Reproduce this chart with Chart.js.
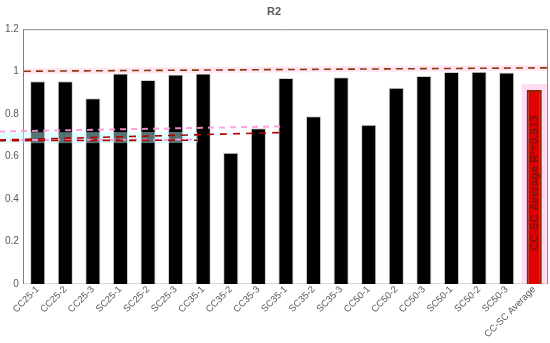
<!DOCTYPE html>
<html>
<head>
<meta charset="utf-8">
<script src="https://cdn.jsdelivr.net/npm/chart.js@4"></script>
<style>
  html, body { margin: 0; padding: 0; background: #fff; }
  #wrap { width: 550px; height: 343px; position: relative; }
</style>
</head>
<body>
<div id="wrap"><canvas id="r2Chart"></canvas></div>
<script>
// ---- data ----
const categories = ['CC25-1', 'CC25-2', 'CC25-3', 'SC25-1', 'SC25-2', 'SC25-3',
    'CC35-1', 'CC35-2', 'CC35-3', 'SC35-1', 'SC35-2', 'SC35-3',
    'CC50-1', 'CC50-2', 'CC50-3', 'SC50-1', 'SC50-2', 'SC50-3', 'CC-SC Average'];
const r2Values = [0.955, 0.955, 0.875, 0.991, 0.961, 0.987,
    0.991, 0.618, 0.733, 0.970, 0.790, 0.974,
    0.750, 0.924, 0.980, 0.998, 0.999, 0.996, 0.913];
const yTicks = [0, 0.2, 0.4, 0.6, 0.8, 1.0, 1.2];
const averageLabel = 'CC-SC Average R\u00b2=0.913';

// dashed reference lines (x in category index units)
const topLineX = [-0.5, 18.5];
const topLineY = [1.002, 1.018];
const midLineAX = [-1.4, 8.8];
const midLineAY = [0.678, 0.713];
const midLineBX = [-1.4, 5.8];
const midLineBY = [0.678, 0.680];
const pinkLineX = [-1.4, 8.8];
const pinkLineY = [0.718, 0.742];

const toPts = (xs, ys) => xs.map((x, i) => ({ x, y: ys[i] }));
const lastIdx = categories.length - 1;

// ---- plugins ----
const frameAndLabel = {
    id: 'frameAndLabel',
    beforeDatasetsDraw(chart) {
        const { ctx } = chart;
        const bar = chart.getDatasetMeta(0).data[lastIdx];
        if (!bar) return;
        // pink glow behind average bar
        ctx.save();
        ctx.fillStyle = 'rgba(255, 190, 235, 0.55)';
        ctx.fillRect(bar.x - bar.width / 2 - 5, bar.y - 6, bar.width + 10, bar.base - bar.y + 6);
        ctx.restore();
    },
    afterDatasetsDraw(chart) {
        const { ctx, chartArea: a } = chart;
        ctx.save();
        ctx.strokeStyle = '#8c8c8c';
        ctx.lineWidth = 1;
        ctx.beginPath();
        ctx.moveTo(a.left, a.top + 0.5);
        ctx.lineTo(a.right - 0.5, a.top + 0.5);
        ctx.lineTo(a.right - 0.5, a.bottom);
        ctx.stroke();

        const bar = chart.getDatasetMeta(0).data[lastIdx];
        if (bar) {
            ctx.translate(bar.x + 0.5, (bar.y + bar.base) / 2 - 4);
            ctx.rotate(-Math.PI / 2);
            ctx.fillStyle = '#7d1200';
            ctx.font = "bold 11.5px 'Liberation Sans', Arial, sans-serif";
            ctx.textAlign = 'center';
            ctx.textBaseline = 'middle';
            ctx.fillText(averageLabel, 0, 0);
        }
        ctx.restore();
    }
};

// ---- chart ----
const lineDs = (label, xs, ys, color, width, dash, order) => ({
    type: 'line',
    label,
    data: toPts(xs, ys),
    xAxisID: 'xl',
    borderColor: color,
    borderWidth: width,
    borderDash: dash,
    pointRadius: 0,
    fill: false,
    clip: false,
    order,
});

new Chart(document.getElementById('r2Chart'), {
    type: 'bar',
    data: {
        labels: categories,
        datasets: [
            {
                label: 'R2',
                data: r2Values,
                backgroundColor: r2Values.map((_, i) => i === lastIdx ? '#e30000' : '#000000'),
                borderColor: r2Values.map((_, i) => i === lastIdx ? '#8b2a00' : 'rgba(0,0,0,0.18)'),
                borderWidth: r2Values.map((_, i) => i === lastIdx ? 2 : 1),
                barPercentage: 0.55,
                categoryPercentage: 1.0,
                grouped: false,
                order: 5,
            },
            lineDs('band top', topLineX, topLineY, 'rgba(255, 200, 230, 0.45)', 6, [], 4),
            lineDs('band mid', midLineBX, midLineBY.map(v => v + 0.01), 'rgba(190, 255, 255, 0.45)', 11, [], 3),
            lineDs('pink', pinkLineX, pinkLineY, 'rgba(255, 150, 220, 0.9)', 2, [6, 5], 2),
            lineDs('pink2', midLineBX, midLineBY, 'rgba(255, 150, 220, 0.9)', 2, [6, 5], 2),
            lineDs('top', topLineX, topLineY, '#8b3a10', 1.6, [7, 5], 1),
            lineDs('mid a', midLineAX, midLineAY, '#b00000', 1.6, [7, 6], 1),
            lineDs('mid b', midLineBX, midLineBY.map(v => v - 0.003), '#b00000', 1.6, [7, 6], 1),
        ]
    },
    plugins: [frameAndLabel],
    options: {
        responsive: true,
        maintainAspectRatio: false,
        animation: false,
        layout: { padding: { left: 0, right: 2, top: 0, bottom: 3 } },
        plugins: {
            legend: { display: false },
            tooltip: { enabled: false },
            title: {
                display: true,
                text: 'R2',
                color: '#595959',
                font: { size: 11, weight: 'bold', family: "'Liberation Sans', Arial, sans-serif" },
                padding: { top: 5, bottom: 11 },
            },
        },
        scales: {
            x: {
                grid: { display: false, drawTicks: false },
                border: { color: '#d9d9d9', width: 1 },
                ticks: {
                    color: '#595959',
                    font: { size: 9.5, family: "'Liberation Sans', Arial, sans-serif" },
                    maxRotation: 45,
                    minRotation: 45,
                    autoSkip: false,
                    padding: 0,
                },
            },
            xl: {
                type: 'linear',
                display: false,
                offset: false,
                min: -0.5,
                max: 18.5,
            },
            y: {
                min: 0,
                max: 1.2,
                afterBuildTicks: axis => { axis.ticks = yTicks.map(v => ({ value: v })); },
                grid: { display: false, drawTicks: false },
                border: { color: '#7f7f7f', width: 1 },
                ticks: {
                    color: '#595959',
                    font: { size: 10, family: "'Liberation Sans', Arial, sans-serif" },
                    padding: 5,
                    callback: v => String(Math.round(v * 10) / 10),
                },
            },
        },
    },
});
</script>
</body>
</html>
